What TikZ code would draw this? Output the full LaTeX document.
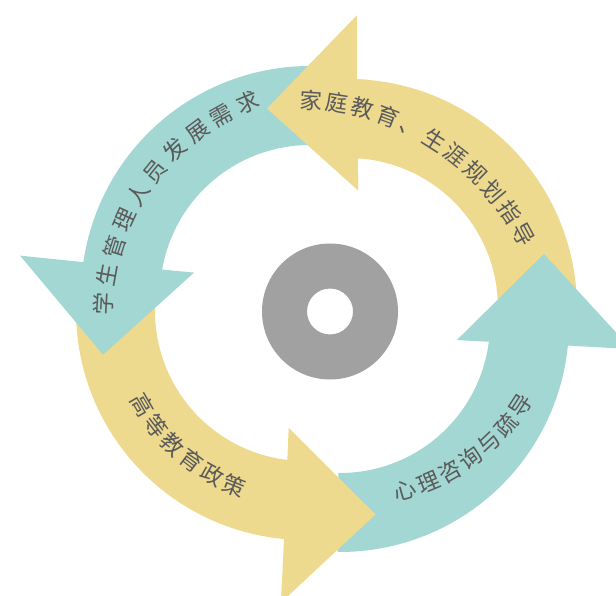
\documentclass[tikz,border=0pt]{standalone}
\usepackage{fontspec}
\newfontfamily\cjkfont{Noto Sans CJK SC}
\usetikzlibrary{calc}
\definecolor{tealA}{HTML}{A3D7D3}
\definecolor{goldA}{HTML}{EDDA8F}
\definecolor{discA}{HTML}{A0A1A0}
\definecolor{txtA}{HTML}{5A5A5A}
% #1 cx, #2 cy, #3 head-base angle, #4 tail angle, #5 colour
\newcommand\myarrowshape[5]{%
  \fill[#5] plot[domain=#4:#3, samples=70] ({#1+229*cos(\x)},{#2+229*sin(\x)})
    -- ($(#1,#2)+(#3:229)+({#3-90}:3)$)
    -- ($(#1,#2)+(#3:292.5)+({#3-90}:6.5)$)
    -- ($(#1,#2)+(#3:195)+({#3-90}:91.4)$)
    -- ($(#1,#2)+(#3:118)+({#3-90}:-4)$)
    -- ($(#1,#2)+(#3:150)+({#3-90}:-2)$)
    -- plot[domain=#3:#4, samples=70] ({#1+150*cos(\x)},{#2+150*sin(\x)})
    -- cycle;}
\newcommand\myarrowhead[4]{%
  \fill[#4] ($(#1,#2)+({#3+2}:229)$)
    -- ($(#1,#2)+(#3:229)+({#3-90}:3)$)
    -- ($(#1,#2)+(#3:292.5)+({#3-90}:6.5)$)
    -- ($(#1,#2)+(#3:195)+({#3-90}:91.4)$)
    -- ($(#1,#2)+(#3:118)+({#3-90}:-4)$)
    -- ($(#1,#2)+(#3:150)+({#3-90}:-2)$)
    -- ($(#1,#2)+({#3+2}:150)$) -- cycle;}
\tikzset{
  chr/.style={font=\cjkfont\fontsize{22.5pt}{22.5pt}\selectfont, text=txtA,
    inner sep=0pt, text height=19.8pt, text depth=2.7pt, anchor=center}
}
\begin{document}
\begin{tikzpicture}[x=1pt,y=-1pt]
\useasboundingbox (0,0) rectangle (616,596);
% arrows (image-angle convention, y downwards)
\myarrowshape{348}{308}{273}{360}{goldA}   % top right
\myarrowshape{340}{323}{6.4}{90.6}{tealA}  % bottom right
\myarrowshape{305}{311}{96}{184}{goldA}    % bottom left
\myarrowshape{310}{295}{189}{270}{tealA}   % top left
\myarrowhead{348}{308}{273}{goldA}         % top right head over top-left tail
% centre ring
\fill[discA, even odd rule] (330,311.5) circle[radius=68pt] (330,311.5) circle[radius=23pt];
\coordinate (ring) at (330,311.5);
% texts
\foreach \ch [count=\i from 0] in {家,庭,教,育,、,生,涯,规,划,指,导}{
  \pgfmathsetmacro\a{273.1+5.85*\i}
  \pgfmathsetmacro\r{-\a-90}
  \node[chr, rotate=\r] (ta\i) at ({297+257*cos(\a)},{357+257*sin(\a)}) {\ch};
}
\foreach \ch [count=\i from 0] in {学,生,管,理,人,员,发,展,需,求}{
  \pgfmathsetmacro\a{183.1+7.19*\i}
  \pgfmathsetmacro\r{-\a-90}
  \node[chr, rotate=\r] (tb\i) at ({334.7+231*cos(\a)},{316.5+231*sin(\a)}) {\ch};
}
\foreach \ch [count=\i from 0] in {高,等,教,育,政,策}{
  \pgfmathsetmacro\a{149.9-7.58*\i}
  \pgfmathsetmacro\r{90-\a}
  \node[chr, rotate=\r] (tc\i) at ({305+188*cos(\a)},{311+188*sin(\a)}) {\ch};
}
\foreach \ch [count=\i from 0] in {心,理,咨,询,与,疏,导}{
  \pgfmathsetmacro\a{74-6.82*\i}
  \pgfmathsetmacro\r{90-\a}
  \node[chr, rotate=\r] (td\i) at ({348.6+205*cos(\a)},{293.4+205*sin(\a)}) {\ch};
}
\end{tikzpicture}
\end{document}
